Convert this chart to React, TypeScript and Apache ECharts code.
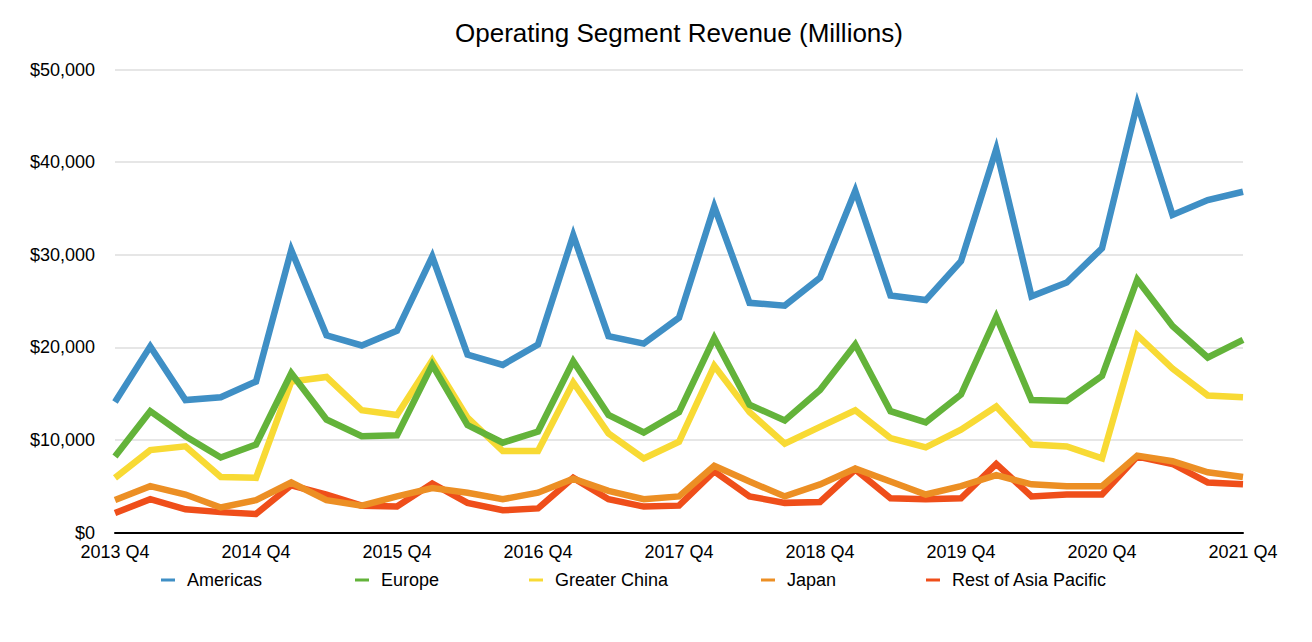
import React, { useEffect, useRef } from "react";
import * as echarts from "echarts";

const quarters = [
  "2013 Q4", "2014 Q1", "2014 Q2", "2014 Q3", "2014 Q4",
  "2015 Q1", "2015 Q2", "2015 Q3", "2015 Q4",
  "2016 Q1", "2016 Q2", "2016 Q3", "2016 Q4",
  "2017 Q1", "2017 Q2", "2017 Q3", "2017 Q4",
  "2018 Q1", "2018 Q2", "2018 Q3", "2018 Q4",
  "2019 Q1", "2019 Q2", "2019 Q3", "2019 Q4",
  "2020 Q1", "2020 Q2", "2020 Q3", "2020 Q4",
  "2021 Q1", "2021 Q2", "2021 Q3", "2021 Q4",
];

const americas = [14100, 20100, 14300, 14600, 16300, 30500, 21300, 20200, 21800, 29800, 19200, 18100, 20300, 32100, 21200, 20400, 23200, 35200, 24800, 24500, 27500, 36900, 25600, 25100, 29300, 41400, 25500, 27000, 30700, 46300, 34300, 35900, 36800];
const europe = [8200, 13100, 10400, 8100, 9500, 17200, 12200, 10400, 10500, 18100, 11600, 9700, 10900, 18500, 12700, 10800, 13000, 21000, 13800, 12100, 15400, 20300, 13100, 11900, 14900, 23300, 14300, 14200, 16900, 27300, 22300, 18900, 20800];
const greaterChina = [5900, 8900, 9300, 6000, 5900, 16300, 16800, 13200, 12700, 18600, 12400, 8800, 8800, 16200, 10700, 8000, 9800, 18000, 13000, 9600, 11400, 13200, 10200, 9200, 11100, 13600, 9500, 9300, 8000, 21300, 17700, 14800, 14600];
const japan = [3500, 5000, 4100, 2700, 3500, 5400, 3500, 2900, 3900, 4800, 4300, 3600, 4300, 5800, 4500, 3600, 3900, 7200, 5500, 3900, 5200, 6900, 5500, 4100, 5000, 6200, 5200, 5000, 5000, 8300, 7700, 6500, 6000];
const restOfAsia = [2100, 3600, 2500, 2200, 2000, 5100, 4100, 2900, 2800, 5300, 3200, 2400, 2600, 5900, 3600, 2800, 2900, 6600, 3900, 3200, 3300, 6800, 3700, 3600, 3700, 7400, 3900, 4100, 4100, 8200, 7400, 5400, 5200];

const seriesNames = ["Americas", "Europe", "Greater China", "Japan", "Rest of Asia Pacific"];
const seriesData = [americas, europe, greaterChina, japan, restOfAsia];
const colors = ["#3F8FC5", "#63B33A", "#F8DA34", "#EC8F24", "#EF4E1A"];
const legendLeft = [161, 355, 529, 761, 926];

const FONT = "'Liberation Sans', Arial, Helvetica, sans-serif";

export default function App() {
  const ref = useRef<HTMLDivElement>(null);

  useEffect(() => {
    if (!ref.current) return;
    const chart = echarts.init(ref.current, null, { renderer: "svg" });
    chart.setOption({
      animation: false,
      backgroundColor: "#ffffff",
      graphic: [
        {
          type: "text",
          x: 679,
          y: 33,
          style: {
            text: "Operating Segment Revenue (Millions)",
            fill: "#000",
            font: `26px ${FONT}`,
            textAlign: "center",
            textVerticalAlign: "middle",
          },
        },
      ],
      legend: seriesNames.map((n, i) => ({
        data: [n],
        left: legendLeft[i],
        top: 571,
        padding: 0,
        icon: "rect",
        itemWidth: 14,
        itemHeight: 3,
        selectedMode: false,
        textStyle: {
          fontFamily: FONT,
          fontSize: 18,
          color: "#000",
          padding: [0, 0, 0, 7],
        },
      })),
      grid: {
        left: 115,
        right: 69,
        top: 69.5,
        bottom: 109.5,
        containLabel: false,
        outerBoundsMode: "none",
      },
      xAxis: {
        type: "category",
        data: quarters,
        boundaryGap: false,
        axisLine: { show: true, lineStyle: { color: "#000", width: 2 } },
        axisTick: { show: false },
        axisLabel: {
          interval: 3,
          margin: 10,
          color: "#000",
          fontFamily: FONT,
          fontSize: 18,
        },
        splitLine: { show: false },
      },
      yAxis: {
        type: "value",
        min: 0,
        max: 50000,
        interval: 10000,
        axisLine: { show: false },
        axisTick: { show: false },
        axisLabel: {
          margin: 20,
          color: "#000",
          fontFamily: FONT,
          fontSize: 18,
          formatter: (v: number) => "$" + v.toLocaleString("en-US"),
        },
        splitLine: { lineStyle: { color: "#dedede", width: 1.5 } },
      },
      series: seriesNames.map((n, i) => ({
        name: n,
        type: "line",
        data: seriesData[i],
        symbol: "none",
        z: 10 - i,
        color: colors[i],
        lineStyle: { color: colors[i], width: 6.5, join: "miter", miterLimit: 6 },
      })),
    });
    return () => chart.dispose();
  }, []);

  return (
    <div
      ref={ref}
      style={{ position: "fixed", left: 0, top: 0, width: 1312, height: 642, background: "#fff" }}
    />
  );
}
